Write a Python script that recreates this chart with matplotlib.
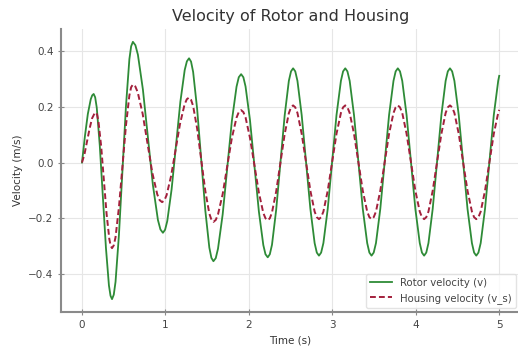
import matplotlib
matplotlib.use('Agg')
import matplotlib.pyplot as plt

# Rotor velocity v (m/s) at its turning points and in between
t_rotor = [0.0, 0.035, 0.07, 0.105, 0.1225, 0.14,
           0.158, 0.177, 0.213, 0.25, 0.287, 0.323, 0.342, 0.36,
           0.381, 0.402, 0.443, 0.485, 0.527, 0.568, 0.589, 0.61,
           0.64, 0.67, 0.73, 0.79, 0.85, 0.91, 0.94, 0.97,
           0.996, 1.022, 1.074, 1.127, 1.179, 1.231, 1.257, 1.283,
           1.307, 1.332, 1.380, 1.429, 1.478, 1.526, 1.551, 1.575,
           1.603, 1.630, 1.686, 1.741, 1.796, 1.852, 1.879, 1.907,
           1.934, 1.960, 2.013, 2.067, 2.120, 2.173, 2.199, 2.226,
           2.251, 2.277, 2.327, 2.378, 2.429, 2.479, 2.505, 2.53,
           2.556, 2.582, 2.633, 2.685, 2.737, 2.788, 2.814, 2.84,
           2.866, 2.893, 2.945, 2.998, 3.050, 3.103, 3.129, 3.155,
           3.181, 3.208, 3.260, 3.313, 3.365, 3.418, 3.444, 3.47,
           3.496, 3.523, 3.575, 3.628, 3.680, 3.733, 3.759, 3.785,
           3.811, 3.838, 3.890, 3.943, 3.995, 4.048, 4.074, 4.10,
           4.126, 4.152, 4.203, 4.255, 4.307, 4.358, 4.384, 4.41,
           4.436, 4.463, 4.515, 4.568, 4.620, 4.673, 4.699, 4.725,
           4.751, 4.778, 4.830, 4.883, 4.935, 4.988, 5.0]
v_rotor = [0.0, 0.094, 0.174, 0.227, 0.241, 0.246,
           0.234, 0.197, 0.062, -0.122, -0.306, -0.441, -0.478, -0.490,
           -0.474, -0.428, -0.259, -0.029, 0.202, 0.371, 0.417, 0.433,
           0.421, 0.387, 0.262, 0.091, -0.081, -0.206, -0.240, -0.252,
           -0.241, -0.210, -0.096, 0.061, 0.218, 0.332, 0.363, 0.374,
           0.362, 0.325, 0.192, 0.010, -0.172, -0.305, -0.342, -0.354,
           -0.343, -0.309, -0.186, -0.019, 0.149, 0.272, 0.306, 0.317,
           0.306, 0.273, 0.153, -0.012, -0.176, -0.296, -0.329, -0.340,
           -0.329, -0.295, -0.170, -0.001, 0.169, 0.293, 0.327, 0.338,
           0.327, 0.293, 0.170, 0.002, -0.166, -0.289, -0.323, -0.334,
           -0.323, -0.289, -0.166, 0.002, 0.170, 0.293, 0.327, 0.338,
           0.327, 0.293, 0.170, 0.002, -0.166, -0.289, -0.323, -0.334,
           -0.323, -0.289, -0.166, 0.002, 0.170, 0.293, 0.327, 0.338,
           0.327, 0.293, 0.170, 0.002, -0.166, -0.289, -0.323, -0.334,
           -0.323, -0.289, -0.166, 0.002, 0.170, 0.293, 0.327, 0.338,
           0.327, 0.293, 0.170, 0.002, -0.166, -0.289, -0.323, -0.334,
           -0.323, -0.289, -0.166, 0.002, 0.170, 0.293, 0.311]

# Housing velocity v_s (m/s)
t_housing = [0.0, 0.03, 0.06, 0.09, 0.12, 0.145, 0.165,
             0.181, 0.1975, 0.23, 0.2625, 0.295, 0.3275, 0.344, 0.36,
             0.381, 0.402, 0.443, 0.485, 0.527, 0.568, 0.589, 0.61,
             0.639, 0.668, 0.727, 0.785, 0.843, 0.902, 0.931, 0.96,
             0.987, 1.014, 1.068, 1.122, 1.175, 1.229, 1.256, 1.283,
             1.307, 1.332, 1.380, 1.429, 1.478, 1.526, 1.551, 1.575,
             1.603, 1.630, 1.686, 1.741, 1.796, 1.852, 1.879, 1.907,
             1.934, 1.960, 2.013, 2.067, 2.120, 2.173, 2.199, 2.226,
             2.251, 2.277, 2.327, 2.378, 2.429, 2.479, 2.505, 2.53,
             2.556, 2.582, 2.633, 2.685, 2.737, 2.788, 2.814, 2.84,
             2.866, 2.893, 2.945, 2.998, 3.050, 3.103, 3.129, 3.155,
             3.181, 3.208, 3.260, 3.313, 3.365, 3.418, 3.444, 3.47,
             3.496, 3.523, 3.575, 3.628, 3.680, 3.733, 3.759, 3.785,
             3.811, 3.838, 3.890, 3.943, 3.995, 4.048, 4.074, 4.10,
             4.126, 4.152, 4.203, 4.255, 4.307, 4.358, 4.384, 4.41,
             4.436, 4.463, 4.515, 4.568, 4.620, 4.673, 4.699, 4.725,
             4.751, 4.778, 4.830, 4.883, 4.935, 4.988, 5.0]
v_housing = [0.0, 0.03, 0.075, 0.12, 0.158, 0.173, 0.18,
             0.172, 0.147, 0.058, -0.064, -0.185, -0.274, -0.299, -0.307,
             -0.297, -0.268, -0.160, -0.014, 0.133, 0.241, 0.270, 0.28,
             0.273, 0.252, 0.175, 0.069, -0.037, -0.114, -0.135, -0.142,
             -0.136, -0.117, -0.048, 0.046, 0.139, 0.208, 0.227, 0.233,
             0.225, 0.203, 0.122, 0.010, -0.102, -0.183, -0.205, -0.213,
             -0.206, -0.186, -0.113, -0.013, 0.088, 0.161, 0.181, 0.188,
             0.181, 0.162, 0.089, -0.010, -0.108, -0.181, -0.200, -0.207,
             -0.200, -0.179, -0.104, -0.001, 0.102, 0.177, 0.198, 0.205,
             0.198, 0.178, 0.103, 0.001, -0.101, -0.176, -0.196, -0.203,
             -0.196, -0.176, -0.101, 0.001, 0.103, 0.178, 0.198, 0.205,
             0.198, 0.178, 0.103, 0.001, -0.101, -0.176, -0.196, -0.203,
             -0.196, -0.176, -0.101, 0.001, 0.103, 0.178, 0.198, 0.205,
             0.198, 0.178, 0.103, 0.001, -0.101, -0.176, -0.196, -0.203,
             -0.196, -0.176, -0.101, 0.001, 0.103, 0.178, 0.198, 0.205,
             0.198, 0.178, 0.103, 0.001, -0.101, -0.176, -0.196, -0.203,
             -0.196, -0.176, -0.101, 0.001, 0.103, 0.178, 0.189]

fig = plt.figure(figsize=(5.18, 3.49), dpi=100)
ax = fig.add_axes([0.118, 0.106, 0.886, 0.811])

ax.plot(t_rotor, v_rotor, color='#2e8b37', linewidth=1.3, label='Rotor velocity (v)')
ax.plot(t_housing, v_housing, color='#a3203c', linewidth=1.4, linestyle='--',
        dashes=(3, 1.6), label='Housing velocity (v_s)')

ax.set_title('Velocity of Rotor and Housing', fontsize=11.5, color='#333333')
ax.set_xlabel('Time (s)', fontsize=7.5, color='#333333')
ax.set_ylabel('Velocity (m/s)', fontsize=7.5, color='#333333')

ax.set_xticks([0, 1, 2, 3, 4, 5])
ax.set_yticks([-0.4, -0.2, 0.0, 0.2, 0.4])
ax.tick_params(labelsize=7.5, labelcolor='#444444', color='#888888',
               direction='inout', length=4, width=0.8)

ax.grid(True, color='#e6e6e6', linewidth=0.8)
ax.set_axisbelow(True)
for side in ['top', 'right']:
    ax.spines[side].set_visible(False)
for side in ['left', 'bottom']:
    ax.spines[side].set_color('#8a8a8a')
    ax.spines[side].set_linewidth(1.5)

leg = ax.legend(loc='lower right', fontsize=7.3, frameon=True, labelcolor='#444444',
                handlelength=2.2, borderaxespad=0.4)
leg.get_frame().set_edgecolor('#dddddd')

fig.savefig('out.png', dpi=100)
